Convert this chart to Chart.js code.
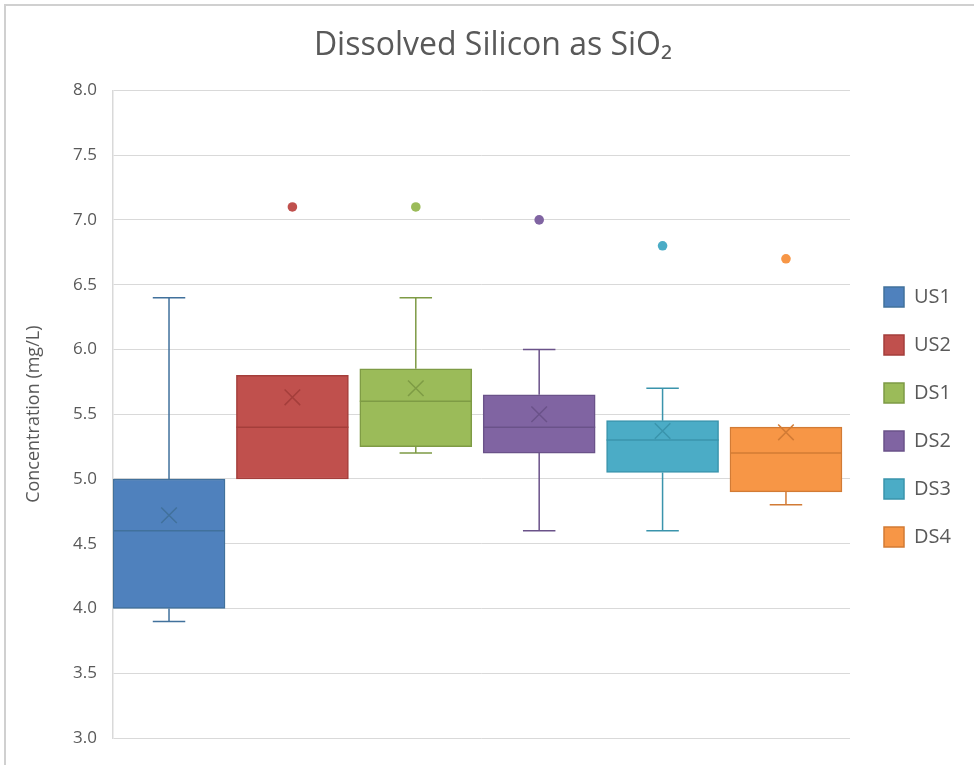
<!DOCTYPE html>
<html>
<head>
<meta charset="utf-8">
<script src="https://cdn.jsdelivr.net/npm/chart.js@4/dist/chart.umd.min.js"></script>
<style>
  html, body { margin: 0; padding: 0; background: #ffffff; }
  #wrap { width: 974px; height: 765px; position: relative; }
</style>
</head>
<body>
<div id="wrap"><canvas id="c" width="974" height="765"></canvas></div>
<script>
// ---- data ----
const categories   = ['US1', 'US2', 'DS1', 'DS2', 'DS3', 'DS4'];
const q1Values     = [4.0, 5.0, 5.25, 5.2, 5.05, 4.9];
const q3Values     = [5.0, 5.8, 5.85, 5.65, 5.45, 5.4];
const medianValues = [4.6, 5.4, 5.6, 5.4, 5.3, 5.2];
const whiskerLow   = [3.9, 5.0, 5.2, 4.6, 4.6, 4.8];
const whiskerHigh  = [6.4, 5.8, 6.4, 6.0, 5.7, 5.4];
const meanValues   = [4.72, 5.63, 5.70, 5.50, 5.37, 5.36];
const outlierValues = [null, 7.1, 7.1, 7.0, 6.8, 6.7];
const yTicks = [3.0, 3.5, 4.0, 4.5, 5.0, 5.5, 6.0, 6.5, 7.0, 7.5, 8.0];

// ---- styles ----
const fillColors   = ['#4F81BD', '#C0504D', '#9BBB59', '#8064A2', '#4BACC6', '#F79646'];
const borderColors = ['#41719C', '#A43E3B', '#7E9B45', '#6A5289', '#3A94AC', '#D27B35'];
const FONT = "'Open Sans', 'Noto Sans', 'DejaVu Sans', sans-serif";
const TEXT = '#595959';

const boxDatasets = categories.map((name, i) => ({
  type: 'bar',
  label: name,
  data: [{ x: i, y: [q1Values[i], q3Values[i]] }],
  backgroundColor: fillColors[i],
  borderColor: borderColors[i],
  borderWidth: 1.5,
  borderSkipped: false,
  barThickness: 112,
  grouped: false,
  order: 2
}));

const meanDataset = {
  type: 'line',
  label: 'Mean',
  data: meanValues.map((v, i) => ({ x: i, y: v })),
  showLine: false,
  pointStyle: 'crossRot',
  pointRadius: 11,
  pointHoverRadius: 11,
  pointBorderWidth: 1.5,
  pointBorderColor: borderColors,
  pointBackgroundColor: borderColors,
  order: 0
};

const outlierDataset = {
  type: 'line',
  label: 'Outliers',
  data: outlierValues.map((v, i) => ({ x: i, y: v })),
  showLine: false,
  pointStyle: 'circle',
  pointRadius: 4.8,
  pointHoverRadius: 4.8,
  pointBorderWidth: 0,
  pointBackgroundColor: fillColors,
  pointBorderColor: fillColors,
  order: 0
};

// whiskers + median lines drawn with the chart scales
const boxPlotPlugin = {
  id: 'boxplotParts',
  afterDatasetDraw(chart, args) {
    const i = args.index;
    if (i >= categories.length) return;
    const meta = chart.getDatasetMeta(i);
    const bar = meta.data[0];
    if (!bar) return;
    const y = chart.scales.y;
    const ctx = chart.ctx;
    const props = bar.getProps(['x', 'width'], true);
    const cx = props.x, w = props.width;
    const cap = w * 0.29;
    ctx.save();
    ctx.strokeStyle = borderColors[i];
    ctx.lineWidth = 1.5;
    const ym = y.getPixelForValue(medianValues[i]);
    ctx.beginPath();
    ctx.moveTo(cx - w / 2, ym);
    ctx.lineTo(cx + w / 2, ym);
    ctx.stroke();
    if (whiskerHigh[i] > q3Values[i]) {
      const yt = y.getPixelForValue(whiskerHigh[i]);
      const yb = y.getPixelForValue(q3Values[i]);
      ctx.beginPath();
      ctx.moveTo(cx, yb); ctx.lineTo(cx, yt);
      ctx.moveTo(cx - cap / 2, yt); ctx.lineTo(cx + cap / 2, yt);
      ctx.stroke();
    }
    if (whiskerLow[i] < q1Values[i]) {
      const yt = y.getPixelForValue(q1Values[i]);
      const yb = y.getPixelForValue(whiskerLow[i]);
      ctx.beginPath();
      ctx.moveTo(cx, yt); ctx.lineTo(cx, yb);
      ctx.moveTo(cx - cap / 2, yb); ctx.lineTo(cx + cap / 2, yb);
      ctx.stroke();
    }
    ctx.restore();
  }
};

// fix legend width / offset so the plot area matches the reference
const legendLayoutPlugin = {
  id: 'legendLayout',
  beforeLayout(chart) {
    const lg = chart.legend;
    if (lg && !lg._fixedFit) {
      const orig = lg.fit.bind(lg);
      lg.fit = function () { orig(); this.width = 124; };
      lg._fixedFit = true;
    }
  },
  afterLayout(chart) {
    const lg = chart.legend;
    if (lg) { lg.left += 6; lg.right += 6; lg.top += 48; lg.bottom += 48; }
  }
};

// outer frame of the chart
const framePlugin = {
  id: 'frame',
  beforeDraw(chart) {
    const ctx = chart.ctx;
    ctx.save();
    ctx.fillStyle = '#ffffff';
    ctx.fillRect(0, 0, chart.width, chart.height);
    ctx.strokeStyle = '#d0d0d0';
    ctx.lineWidth = 2;
    ctx.beginPath();
    ctx.moveTo(5, 765); ctx.lineTo(5, 5); ctx.lineTo(974, 5);
    ctx.stroke();
    ctx.restore();
  }
};

const chart = new Chart(document.getElementById('c'), {
  data: { datasets: [...boxDatasets, meanDataset, outlierDataset] },
  options: {
    responsive: false,
    animation: false,
    events: [],
    layout: { padding: { left: 12, right: 0, top: 0, bottom: 27 } },
    plugins: {
      title: {
        display: true,
        text: 'Dissolved Silicon as SiO\u2082',
        color: TEXT,
        font: { family: FONT, size: 32, weight: 'normal', lineHeight: 1.2 },
        padding: { top: 27, bottom: 25 }
      },
      legend: {
        display: true,
        position: 'right',
        labels: {
          filter: (item) => item.datasetIndex < categories.length,
          boxWidth: 20,
          boxHeight: 20,
          padding: 28,
          color: TEXT,
          font: { family: FONT, size: 20 }
        }
      },
      tooltip: { enabled: false }
    },
    scales: {
      x: {
        type: 'linear',
        display: false,
        offset: false,
        min: -0.454,
        max: 5.519
      },
      y: {
        min: 3,
        max: 8,
        afterBuildTicks(scale) { scale.ticks = yTicks.map(v => ({ value: v })); },
        afterFit(scale) { scale.width = 101; },
        ticks: {
          padding: 16,
          color: TEXT,
          font: { family: FONT, size: 17 },
          callback: (v) => Number(v).toFixed(1)
        },
        grid: { color: '#d9d9d9', lineWidth: 1, drawTicks: false },
        border: { display: true, color: '#d9d9d9', width: 1.5 },
        title: {
          display: true,
          text: 'Concentration (mg/L)',
          color: TEXT,
          font: { family: FONT, size: 18 },
          padding: { top: 11, bottom: 0 }
        }
      }
    }
  },
  plugins: [framePlugin, boxPlotPlugin, legendLayoutPlugin]
});
</script>
</body>
</html>
